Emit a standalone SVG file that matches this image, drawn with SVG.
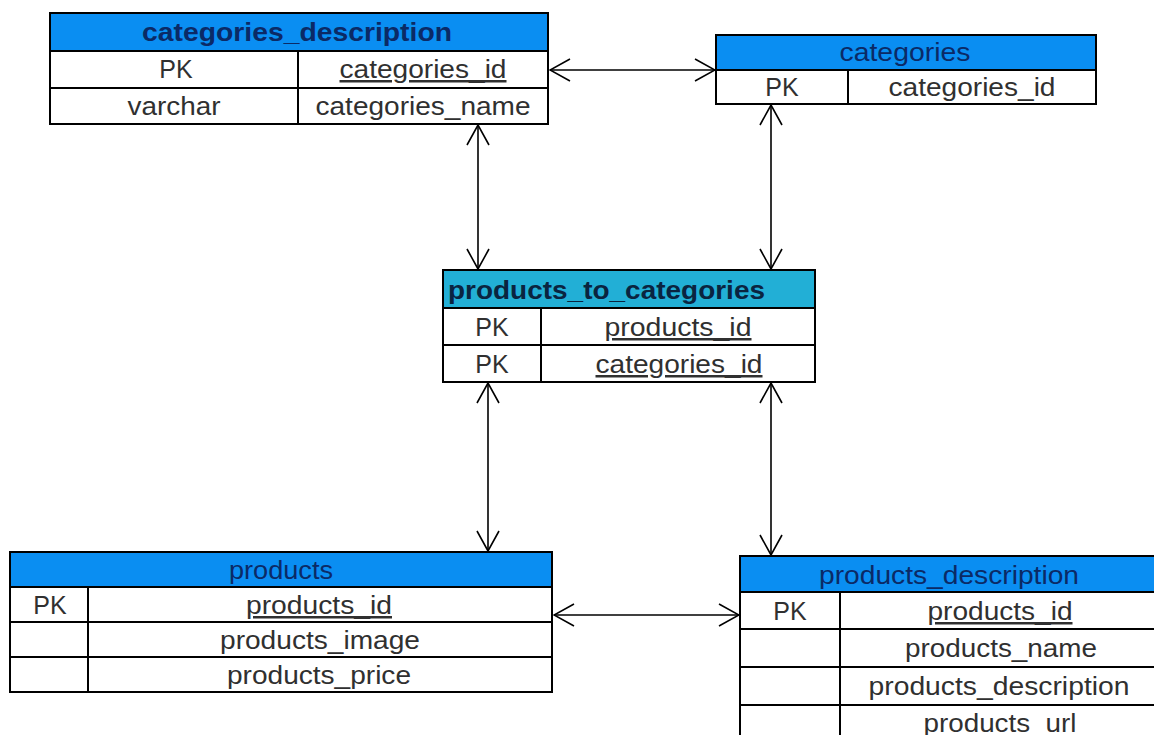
<svg xmlns="http://www.w3.org/2000/svg" width="1154" height="735" viewBox="0 0 1154 735">
<defs>
<style>
.box{fill:#fff;stroke:#000;stroke-width:2}
.hd{fill:#0a8ef2;stroke:#000;stroke-width:2}
.hd2{fill:#22afd6;stroke:#000;stroke-width:2}
.ln{stroke:#000;stroke-width:2;fill:none}
.t{font-family:"Liberation Sans",Arial,sans-serif;font-size:25px;fill:#303030;text-anchor:middle}
.u{text-decoration:underline}
.h{font-family:"Liberation Sans",Arial,sans-serif;font-size:25px;fill:#0b2a66;text-anchor:middle}
.hb{font-weight:bold}
.c{stroke:#000;stroke-width:1.6;fill:none}
</style>
<marker id="arr" viewBox="0 0 22 24" refX="21" refY="12" markerWidth="22" markerHeight="24" markerUnits="userSpaceOnUse" orient="auto-start-reverse">
<path d="M1,1 L21,12 L1,23" fill="none" stroke="#000" stroke-width="1.6"/>
</marker>
</defs>
<rect width="1154" height="735" fill="#fff"/>
<g id="connectors">
<line class="c" x1="550" y1="70" x2="715" y2="70" marker-start="url(#arr)" marker-end="url(#arr)"/>
<line class="c" x1="478" y1="125" x2="478" y2="269" marker-start="url(#arr)" marker-end="url(#arr)"/>
<line class="c" x1="771" y1="105" x2="771" y2="269" marker-start="url(#arr)" marker-end="url(#arr)"/>
<line class="c" x1="488" y1="383" x2="488" y2="551" marker-start="url(#arr)" marker-end="url(#arr)"/>
<line class="c" x1="771" y1="383" x2="771" y2="555" marker-start="url(#arr)" marker-end="url(#arr)"/>
<line class="c" x1="554" y1="615" x2="739" y2="615" marker-start="url(#arr)" marker-end="url(#arr)"/>
</g>
<g id="categories_description">
<rect class="hd" x="50" y="13" width="498" height="38"/>
<rect class="box" x="50" y="51" width="498" height="73"/>
<line class="ln" x1="50" y1="88" x2="548" y2="88"/>
<line class="ln" x1="298" y1="51" x2="298" y2="124"/>
<text class="h hb" x="297" y="41" textLength="310" lengthAdjust="spacingAndGlyphs">categories_description</text>
<text class="t" x="176" y="78">PK</text>
<text class="t u" x="423" y="78" textLength="167" lengthAdjust="spacingAndGlyphs">categories_id</text>
<text class="t" x="174" y="115" textLength="93" lengthAdjust="spacingAndGlyphs">varchar</text>
<text class="t" x="423" y="115" textLength="215" lengthAdjust="spacingAndGlyphs">categories_name</text>
</g>
<g id="categories">
<rect class="hd" x="716" y="35" width="380" height="35"/>
<rect class="box" x="716" y="70" width="380" height="34"/>
<line class="ln" x1="848" y1="70" x2="848" y2="104"/>
<text class="h" x="905" y="61" textLength="131" lengthAdjust="spacingAndGlyphs">categories</text>
<text class="t" x="782" y="96">PK</text>
<text class="t" x="972" y="96" textLength="167" lengthAdjust="spacingAndGlyphs">categories_id</text>
</g>
<g id="products_to_categories">
<rect class="hd2" x="443" y="270" width="372" height="38"/>
<rect class="box" x="443" y="308" width="372" height="74"/>
<line class="ln" x1="443" y1="345" x2="815" y2="345"/>
<line class="ln" x1="541" y1="308" x2="541" y2="382"/>
<text class="h hb" x="448" y="299" style="text-anchor:start;fill:#0a2440" textLength="317" lengthAdjust="spacingAndGlyphs">products_to_categories</text>
<text class="t" x="492" y="336">PK</text>
<text class="t u" x="678" y="336" textLength="147" lengthAdjust="spacingAndGlyphs">products_id</text>
<text class="t" x="492" y="373">PK</text>
<text class="t u" x="679" y="373" textLength="167" lengthAdjust="spacingAndGlyphs">categories_id</text>
</g>
<g id="products">
<rect class="hd" x="10" y="552" width="542" height="35"/>
<rect class="box" x="10" y="587" width="542" height="105"/>
<line class="ln" x1="10" y1="622" x2="552" y2="622"/>
<line class="ln" x1="10" y1="657" x2="552" y2="657"/>
<line class="ln" x1="88" y1="587" x2="88" y2="692"/>
<text class="h" x="281" y="579" textLength="104" lengthAdjust="spacingAndGlyphs">products</text>
<text class="t" x="50" y="614">PK</text>
<text class="t u" x="319" y="614" textLength="146" lengthAdjust="spacingAndGlyphs">products_id</text>
<text class="t" x="320" y="649" textLength="200" lengthAdjust="spacingAndGlyphs">products_image</text>
<text class="t" x="319" y="684" textLength="184" lengthAdjust="spacingAndGlyphs">products_price</text>
</g>
<g id="products_description">
<rect class="hd" x="740" y="556" width="420" height="36"/>
<rect class="box" x="740" y="592" width="420" height="150"/>
<line class="ln" x1="740" y1="629" x2="1160" y2="629"/>
<line class="ln" x1="740" y1="667" x2="1160" y2="667"/>
<line class="ln" x1="740" y1="705" x2="1160" y2="705"/>
<line class="ln" x1="840" y1="592" x2="840" y2="742"/>
<text class="h" x="949" y="584" textLength="260" lengthAdjust="spacingAndGlyphs">products_description</text>
<text class="t" x="790" y="620">PK</text>
<text class="t u" x="1000" y="620" textLength="145" lengthAdjust="spacingAndGlyphs">products_id</text>
<text class="t" x="1001" y="657" textLength="192" lengthAdjust="spacingAndGlyphs">products_name</text>
<text class="t" x="999" y="695" textLength="261" lengthAdjust="spacingAndGlyphs">products_description</text>
<text class="t" x="1000" y="732" textLength="153" lengthAdjust="spacingAndGlyphs">products_url</text>
</g>
</svg>
